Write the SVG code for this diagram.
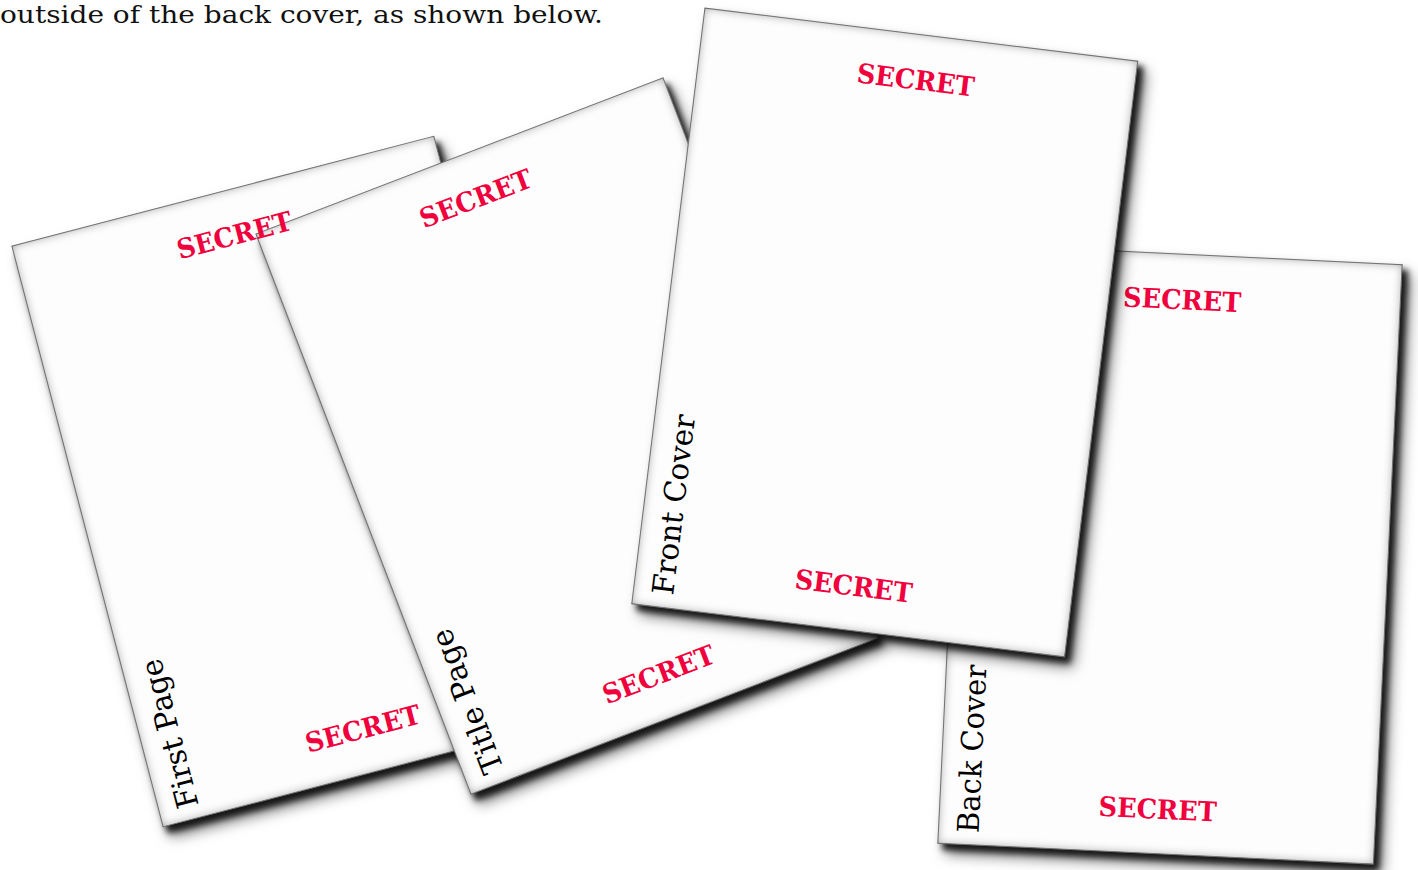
<svg xmlns="http://www.w3.org/2000/svg" width="1418" height="870" viewBox="0 0 1418 870">
  <defs>
    <filter id="pageFx" x="-8%" y="-8%" width="120%" height="120%" color-interpolation-filters="sRGB">
      <feGaussianBlur in="SourceAlpha" stdDeviation="3" result="b1"/>
      <feOffset in="b1" dx="5" dy="6" result="o1"/>
      <feFlood flood-color="#111" flood-opacity="0.95"/>
      <feComposite in2="o1" operator="in" result="s1"/>
      <feGaussianBlur in="SourceAlpha" stdDeviation="7" result="b2"/>
      <feOffset in="b2" dx="8" dy="10" result="o2"/>
      <feFlood flood-color="#000" flood-opacity="0.55"/>
      <feComposite in2="o2" operator="in" result="s2"/>
      <feGaussianBlur in="SourceAlpha" stdDeviation="5" result="ib"/>
      <feComposite in="SourceAlpha" in2="ib" operator="out" result="edge"/>
      <feFlood flood-color="#000" flood-opacity="0.35"/>
      <feComposite in2="edge" operator="in" result="inner"/>
      <feMerge>
        <feMergeNode in="s2"/>
        <feMergeNode in="s1"/>
        <feMergeNode in="SourceGraphic"/>
        <feMergeNode in="inner"/>
      </feMerge>
    </filter>
  </defs>
  <style>
    .sheet { fill: #fdfdfd; stroke: #888; stroke-width: 1; }
    .secret { font-family: "DejaVu Serif", "Liberation Serif", serif; font-weight: bold; font-size: 27px; fill: #f0003c; text-anchor: middle; }
    .label { font-family: "DejaVu Serif", "Liberation Serif", serif; font-size: 30px; fill: #000; }
    .caption { font-family: "DejaVu Serif", "Liberation Serif", serif; font-size: 25px; fill: #111; }
  </style>
  <rect width="1418" height="870" fill="#fff"/>

  <text class="caption" x="0" y="23" textLength="603" lengthAdjust="spacingAndGlyphs">outside of the back cover, as shown below.</text>

  <g id="first-page">
    <g filter="url(#pageFx)">
      <rect class="sheet" x="-218" y="-300" width="436" height="600" transform="translate(298.5,481.5) rotate(-14.6)"/>
    </g>
    <g transform="translate(298.5,481.5) rotate(-14.6)">
      <text class="secret" x="0" y="265" textLength="118" lengthAdjust="spacingAndGlyphs">SECRET</text>
      <text class="label" transform="translate(-178,288) rotate(-90)" textLength="153" lengthAdjust="spacingAndGlyphs">First Page</text>
    </g>
  </g>

  <g id="title-page">
    <g filter="url(#pageFx)">
      <rect class="sheet" x="-218" y="-300" width="436" height="600" transform="translate(567,436) rotate(-21)"/>
    </g>
    <g transform="translate(567,436) rotate(-21)">
      <text class="secret" x="0" y="-245" textLength="118" lengthAdjust="spacingAndGlyphs">SECRET</text>
      <text class="secret" x="0" y="265" textLength="118" lengthAdjust="spacingAndGlyphs">SECRET</text>
      <text class="label" transform="translate(-178,288) rotate(-90)" textLength="152" lengthAdjust="spacingAndGlyphs">Title Page</text>
    </g>
  </g>

  <g id="first-page-top-label" transform="translate(298.5,481.5) rotate(-14.6)">
    <text class="secret" x="0" y="-245" textLength="118" lengthAdjust="spacingAndGlyphs">SECRET</text>
  </g>

  <g id="back-cover">
    <g filter="url(#pageFx)">
      <rect class="sheet" x="-218" y="-300" width="436" height="600" transform="translate(1170,554) rotate(2.75)"/>
    </g>
    <g transform="translate(1170,554) rotate(2.75)">
      <text class="secret" x="0" y="-245" textLength="118" lengthAdjust="spacingAndGlyphs">SECRET</text>
      <text class="secret" x="0" y="265" textLength="118" lengthAdjust="spacingAndGlyphs">SECRET</text>
      <text class="label" transform="translate(-178,288) rotate(-90)" textLength="168" lengthAdjust="spacingAndGlyphs">Back Cover</text>
    </g>
  </g>

  <g id="front-cover">
    <g filter="url(#pageFx)">
      <rect class="sheet" x="-218" y="-300" width="436" height="600" transform="translate(884.75,332.5) rotate(7)"/>
    </g>
    <g transform="translate(884.75,332.5) rotate(7)">
      <text class="secret" x="0" y="-245" textLength="118" lengthAdjust="spacingAndGlyphs">SECRET</text>
      <text class="secret" x="0" y="265" textLength="118" lengthAdjust="spacingAndGlyphs">SECRET</text>
      <text class="label" transform="translate(-178,287) rotate(-90)" textLength="181" lengthAdjust="spacingAndGlyphs">Front Cover</text>
    </g>
  </g>
</svg>
